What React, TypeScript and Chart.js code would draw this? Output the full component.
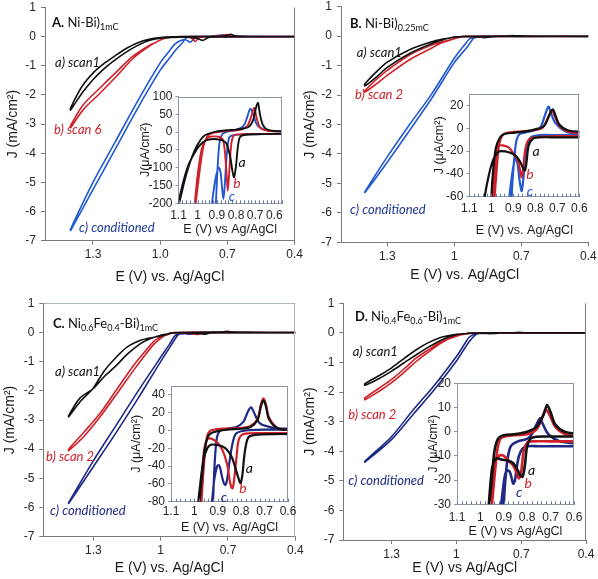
import React, { useEffect, useRef } from "react";
import { Chart, registerables } from "chart.js";

Chart.register(...registerables);

// ---------------- Tick labels ----------------
const MAIN_X_TICKS = [1.3, 1.0, 0.7, 0.4];
const MAIN_Y_TICKS = [1, 0, -1, -2, -3, -4, -5, -6, -7];
const INSET_X_TICKS = [1.1, 1.0, 0.9, 0.8, 0.7, 0.6];
const A_INSET_Y_TICKS = [100, 50, 0, -50, -100, -150, -200];
const B_INSET_Y_TICKS = [20, 0, -20, -40, -60];
const C_INSET_Y_TICKS = [40, 20, 0, -20, -40, -60, -80];
const D_INSET_Y_TICKS = [20, 10, 0, -10, -20, -30];

// ---------------- Panel A main (mA/cm2) ----------------
const A_blk_E = [0.40, 0.55, 0.64, 0.67, 0.685, 0.70, 0.72, 0.76, 0.85, 0.95, 1.00, 1.05, 1.10, 1.15, 1.20, 1.25, 1.30, 1.35, 1.40,
  1.40, 1.35, 1.30, 1.25, 1.20, 1.15, 1.10, 1.05, 1.00, 0.95, 0.90, 0.85, 0.825, 0.81, 0.795, 0.78, 0.70, 0.55, 0.40];
const A_blk_J = [0.002, 0.003, 0.008, 0.04, 0.082, 0.05, 0.02, 0.008, 0.004, -0.004, -0.03, -0.09, -0.21, -0.40, -0.65, -0.92, -1.25, -1.72, -2.45,
  -2.52, -1.95, -1.48, -1.10, -0.79, -0.52, -0.30, -0.13, -0.05, -0.024, -0.02, -0.032, -0.09, -0.127, -0.07, -0.015, -0.006, -0.005, -0.005];
const A_red_E = [0.40, 0.60, 0.67, 0.69, 0.705, 0.72, 0.75, 0.82, 0.90, 0.95, 0.98, 1.00, 1.02, 1.045, 1.12, 1.194, 1.27, 1.345, 1.40,
  1.40, 1.345, 1.27, 1.194, 1.12, 1.045, 1.00, 0.97, 0.94, 0.90, 0.87, 0.855, 0.843, 0.83, 0.815, 0.78, 0.60, 0.40];
const A_red_J = [0.002, 0.003, 0.01, 0.035, 0.068, 0.045, 0.012, 0.004, 0.001, -0.012, -0.05, -0.11, -0.2, -0.28, -0.66, -1.2, -1.77, -2.35, -3.05,
  -3.12, -2.52, -1.95, -1.35, -0.74, -0.31, -0.12, -0.04, -0.014, -0.013, -0.02, -0.08, -0.165, -0.06, -0.012, -0.006, -0.005, -0.005];
const A_blu_E = [0.40, 0.65, 0.70, 0.725, 0.745, 0.77, 0.82, 0.86, 0.88, 0.89, 0.90, 0.93, 0.96, 1.00, 1.10, 1.20, 1.30, 1.40,
  1.40, 1.30, 1.20, 1.10, 1.00, 0.96, 0.94, 0.925, 0.91, 0.89, 0.878, 0.866, 0.855, 0.845, 0.83, 0.80, 0.60, 0.40];
const A_blu_J = [0.002, 0.008, 0.03, 0.066, 0.04, 0.015, 0.005, 0, -0.025, -0.09, -0.2, -0.45, -0.75, -1.15, -2.45, -3.85, -5.25, -6.65,
  -6.6, -5.0, -3.6, -2.2, -0.9, -0.5, -0.3, -0.2, -0.14, -0.1, -0.14, -0.19, -0.12, -0.045, -0.012, -0.008, -0.006, -0.005];

// ---------------- Panel A inset (uA/cm2) ----------------
const Ai_blk_E = [0.54, 0.60, 0.64, 0.66, 0.675, 0.685, 0.695, 0.71, 0.73, 0.76, 0.80, 0.85, 0.90, 0.94, 0.97, 1.00, 1.03, 1.06, 1.09, 1.12,
  1.12, 1.10, 1.08, 1.05, 1.02, 0.99, 0.96, 0.93, 0.90, 0.87, 0.85, 0.83, 0.82, 0.81, 0.80, 0.79, 0.78, 0.76, 0.70, 0.60, 0.54];
const Ai_blk_J = [2, 3, 8, 20, 50, 82, 70, 35, 16, 10, 7, 5, 2, -4, -12, -35, -70, -120, -185, -250,
  -260, -200, -150, -95, -62, -38, -24, -20, -20, -23, -32, -70, -105, -127, -95, -40, -15, -8, -6, -5, -5];
const Ai_red_E = [0.54, 0.62, 0.67, 0.69, 0.705, 0.72, 0.74, 0.77, 0.82, 0.88, 0.93, 0.95, 0.97, 0.99, 1.01, 1.03,
  1.03, 1.015, 1.00, 0.98, 0.96, 0.94, 0.92, 0.89, 0.87, 0.86, 0.85, 0.843, 0.835, 0.825, 0.815, 0.80, 0.75, 0.65, 0.54];
const Ai_red_J = [2, 3, 10, 35, 68, 45, 18, 8, 4, 1, -4, -12, -40, -110, -200, -290,
  -300, -200, -120, -50, -22, -14, -12, -13, -20, -45, -110, -165, -110, -35, -12, -7, -6, -5, -5];
const Ai_blu_E = [0.54, 0.64, 0.69, 0.71, 0.725, 0.74, 0.76, 0.80, 0.84, 0.87, 0.885, 0.895, 0.905, 0.915,
  0.94, 0.925, 0.91, 0.897, 0.889, 0.88, 0.872, 0.866, 0.86, 0.853, 0.845, 0.835, 0.82, 0.78, 0.70, 0.60, 0.54];
const Ai_blu_J = [2, 5, 20, 50, 66, 45, 18, 6, 2, -5, -25, -90, -200, -300,
  -300, -200, -140, -108, -100, -115, -160, -188, -160, -100, -45, -15, -9, -7, -6, -5, -5];

// ---------------- Panel B main ----------------
const B_blk_E = [0.40, 0.60, 0.69, 0.72, 0.75, 0.85, 0.94, 0.97, 0.99, 1.01, 1.05, 1.10, 1.20, 1.30, 1.35, 1.40,
  1.40, 1.35, 1.30, 1.20, 1.10, 1.05, 1.02, 0.99, 0.96, 0.92, 0.88, 0.855, 0.847, 0.835, 0.81, 0.70, 0.40];
const B_blk_J = [-0.003, -0.003, 0.003, 0.016, 0.002, -0.003, -0.005, -0.01, -0.025, -0.045, -0.1, -0.19, -0.46, -0.88, -1.22, -1.62,
  -1.69, -1.40, -1.06, -0.59, -0.25, -0.12, -0.065, -0.03, -0.021, -0.021, -0.026, -0.035, -0.037, -0.022, -0.009, -0.008, -0.008];
const B_red_E = [0.40, 0.65, 0.69, 0.725, 0.76, 0.88, 0.95, 0.975, 1.00, 1.05, 1.10, 1.20, 1.30, 1.35, 1.40,
  1.40, 1.35, 1.30, 1.20, 1.10, 1.05, 1.00, 0.98, 0.96, 0.92, 0.89, 0.862, 0.845, 0.83, 0.80, 0.40];
const B_red_J = [-0.004, -0.003, 0.002, 0.016, 0.001, -0.003, -0.006, -0.035, -0.09, -0.18, -0.3, -0.64, -1.16, -1.48, -1.85,
  -1.9, -1.63, -1.33, -0.8, -0.4, -0.21, -0.09, -0.03, -0.015, -0.017, -0.025, -0.043, -0.018, -0.01, -0.008, -0.007];
const B_blu_E = [0.40, 0.66, 0.71, 0.74, 0.78, 0.87, 0.89, 0.905, 0.915, 0.94, 1.00, 1.10, 1.20, 1.30, 1.40,
  1.40, 1.30, 1.20, 1.10, 1.00, 0.96, 0.93, 0.918, 0.905, 0.895, 0.888, 0.88, 0.872, 0.862, 0.852, 0.84, 0.82, 0.70, 0.40];
const B_blu_J = [-0.005, -0.003, 0.005, 0.019, 0.0, -0.005, -0.018, -0.05, -0.08, -0.35, -0.9, -2.1, -3.2, -4.28, -5.31,
  -5.28, -4.1, -3.0, -1.95, -0.75, -0.35, -0.08, -0.06, -0.04, -0.029, -0.027, -0.032, -0.045, -0.055, -0.04, -0.018, -0.008, -0.006, -0.006];

// ---------------- Panel B inset ----------------
const Bi_blk_E = [0.58, 0.65, 0.69, 0.71, 0.72, 0.735, 0.76, 0.80, 0.85, 0.90, 0.94, 0.96, 0.98, 0.995, 1.01,
  1.05, 1.03, 1.01, 0.99, 0.97, 0.955, 0.92, 0.89, 0.87, 0.855, 0.847, 0.84, 0.83, 0.81, 0.78, 0.70, 0.58];
const Bi_blk_J = [-3, -2, 3, 12, 16.5, 12, 2, -1, -3, -4, -5, -8, -18, -45, -80,
  -90, -60, -40, -27, -21, -20, -21, -24, -29, -35, -37, -30, -15, -9, -8, -8, -8];
const Bi_red_E = [0.58, 0.65, 0.69, 0.71, 0.725, 0.74, 0.77, 0.82, 0.88, 0.93, 0.95, 0.965, 0.975, 0.985, 1.00,
  1.00, 0.99, 0.98, 0.97, 0.95, 0.92, 0.90, 0.88, 0.87, 0.862, 0.855, 0.845, 0.83, 0.80, 0.70, 0.58];
const Bi_red_J = [-4, -3, 2, 10, 16, 10, 0, -2, -3, -4, -6, -15, -35, -60, -90,
  -90, -50, -25, -16, -15, -17, -22, -28, -36, -43, -35, -18, -10, -8, -7, -7];
const Bi_blu_E = [0.58, 0.66, 0.71, 0.73, 0.74, 0.755, 0.78, 0.83, 0.87, 0.885, 0.895, 0.905, 0.915,
  0.93, 0.918, 0.905, 0.895, 0.888, 0.88, 0.872, 0.862, 0.852, 0.84, 0.82, 0.78, 0.70, 0.58];
const Bi_blu_J = [-5, -3, 5, 14, 19, 12, 0, -3, -5, -10, -25, -50, -80,
  -80, -60, -40, -29, -26.5, -32, -45, -55, -40, -18, -8, -6, -6, -6];

// ---------------- Panel C main ----------------
const C_blk_E = [0.40, 0.64, 0.68, 0.705, 0.73, 0.80, 0.92, 0.955, 0.975, 1.00, 1.05, 1.09, 1.15, 1.196, 1.25, 1.30, 1.36, 1.41,
  1.41, 1.36, 1.30, 1.25, 1.196, 1.15, 1.09, 1.05, 1.00, 0.975, 0.945, 0.91, 0.88, 0.84, 0.81, 0.803, 0.795, 0.78, 0.74, 0.40];
const C_blk_J = [0.001, 0.002, 0.012, 0.034, 0.012, 0.002, -0.002, -0.02, -0.07, -0.12, -0.19, -0.27, -0.5, -0.83, -1.3, -1.9, -2.38, -2.89,
  -2.85, -2.25, -1.92, -1.5, -1.12, -0.75, -0.38, -0.22, -0.1, -0.06, -0.02, -0.016, -0.018, -0.03, -0.055, -0.059, -0.05, -0.015, -0.005, -0.004];
const C_red_E = [0.40, 0.64, 0.68, 0.705, 0.73, 0.80, 0.93, 0.95, 0.97, 1.00, 1.03, 1.07, 1.12, 1.20, 1.27, 1.34, 1.41,
  1.41, 1.34, 1.27, 1.20, 1.12, 1.07, 1.03, 1.00, 0.975, 0.95, 0.92, 0.88, 0.85, 0.837, 0.82, 0.80, 0.40];
const C_red_J = [0.001, 0.002, 0.014, 0.036, 0.013, 0.003, 0, -0.015, -0.08, -0.15, -0.3, -0.65, -1.12, -2.0, -2.77, -3.4, -4.0,
  -4.05, -3.55, -2.89, -2.15, -1.29, -0.78, -0.4, -0.2, -0.08, -0.012, -0.01, -0.022, -0.055, -0.065, -0.03, -0.004, -0.003];
const C_blu_E = [0.40, 0.66, 0.72, 0.757, 0.79, 0.86, 0.89, 0.905, 0.915, 0.925, 0.95, 1.00, 1.10, 1.20, 1.30, 1.41,
  1.41, 1.30, 1.20, 1.10, 1.00, 0.96, 0.935, 0.915, 0.897, 0.882, 0.867, 0.85, 0.835, 0.82, 0.40];
const C_blu_J = [0.001, 0.003, 0.008, 0.026, 0.01, 0.002, 0, -0.01, -0.045, -0.1, -0.4, -1.0, -2.25, -3.45, -4.6, -5.86,
  -5.83, -4.4, -3.2, -2.0, -0.85, -0.4, -0.1, -0.055, -0.039, -0.052, -0.061, -0.035, -0.012, -0.003, 0.001];

// ---------------- Panel C inset ----------------
const Ci_blk_E = [0.58, 0.64, 0.68, 0.695, 0.705, 0.715, 0.73, 0.76, 0.80, 0.86, 0.92, 0.94, 0.955, 0.965, 0.975, 0.985,
  0.99, 0.975, 0.96, 0.945, 0.93, 0.91, 0.88, 0.86, 0.84, 0.825, 0.81, 0.803, 0.795, 0.785, 0.77, 0.74, 0.65, 0.58];
const Ci_blk_J = [1, 2, 12, 28, 34, 28, 12, 4, 2, 1, -2, -6, -20, -45, -70, -100,
  -100, -60, -32, -20, -16, -16, -18, -22, -30, -42, -55, -59, -50, -25, -8, -5, -4, -4];
const Ci_red_E = [0.58, 0.64, 0.68, 0.695, 0.705, 0.715, 0.73, 0.76, 0.80, 0.88, 0.93, 0.945, 0.955, 0.965, 0.975,
  0.98, 0.97, 0.96, 0.95, 0.94, 0.92, 0.90, 0.88, 0.86, 0.85, 0.843, 0.837, 0.83, 0.82, 0.81, 0.79, 0.70, 0.58];
const Ci_red_J = [1, 2, 14, 30, 36, 30, 13, 5, 3, 2, 0, -6, -25, -60, -100,
  -100, -55, -25, -12, -9, -10, -14, -22, -38, -55, -63, -65, -55, -30, -10, -4, -3, -3];
const Ci_blu_E = [0.58, 0.66, 0.72, 0.745, 0.757, 0.77, 0.79, 0.82, 0.86, 0.89, 0.905, 0.915, 0.925,
  0.935, 0.925, 0.915, 0.905, 0.897, 0.89, 0.882, 0.873, 0.867, 0.86, 0.85, 0.835, 0.82, 0.78, 0.70, 0.58];
const Ci_blu_J = [2, 3, 8, 20, 26, 22, 10, 4, 2, 0, -10, -45, -100,
  -100, -80, -55, -42, -39, -42, -52, -60, -61, -55, -35, -12, -3, 0, 1, 1];

// ---------------- Panel D main ----------------
const D_blk_E = [0.40, 0.64, 0.70, 0.715, 0.74, 0.80, 0.90, 0.94, 0.96, 0.98, 1.00, 1.04, 1.08, 1.13, 1.184, 1.24, 1.30, 1.36, 1.424,
  1.424, 1.36, 1.30, 1.24, 1.184, 1.13, 1.08, 1.04, 1.00, 0.97, 0.93, 0.88, 0.84, 0.82, 0.80, 0.78, 0.40];
const D_blk_J = [-0.001, 0, 0.008, 0.011, 0.003, 0, -0.0015, -0.008, -0.028, -0.04, -0.05, -0.1, -0.17, -0.33, -0.56, -0.85, -1.18, -1.45, -1.72,
  -1.77, -1.55, -1.29, -1.0, -0.73, -0.48, -0.28, -0.15, -0.06, -0.03, -0.011, -0.012, -0.016, -0.0186, -0.006, -0.0025, -0.002];
const D_red_E = [0.40, 0.64, 0.70, 0.72, 0.735, 0.80, 0.91, 0.935, 0.955, 0.97, 1.00, 1.04, 1.08, 1.13, 1.184, 1.24, 1.30, 1.36, 1.424,
  1.424, 1.36, 1.30, 1.24, 1.184, 1.13, 1.08, 1.04, 1.00, 0.96, 0.935, 0.915, 0.88, 0.845, 0.835, 0.815, 0.80, 0.40];
const D_red_J = [-0.002, -0.001, 0.006, 0.0092, 0.006, -0.001, -0.0025, -0.014, -0.035, -0.05, -0.1, -0.2, -0.34, -0.57, -0.84, -1.2, -1.57, -1.88, -2.2,
  -2.26, -1.98, -1.68, -1.32, -0.95, -0.65, -0.39, -0.22, -0.11, -0.03, -0.012, -0.0096, -0.012, -0.017, -0.0193, -0.008, -0.0045, -0.004];
const D_blu_E = [0.40, 0.66, 0.71, 0.745, 0.78, 0.84, 0.87, 0.885, 0.895, 0.905, 0.93, 0.96, 1.00, 1.10, 1.20, 1.30, 1.424,
  1.424, 1.30, 1.20, 1.10, 1.00, 0.96, 0.94, 0.915, 0.895, 0.885, 0.86, 0.845, 0.82, 0.80, 0.40];
const D_blu_J = [-0.006, -0.004, -0.001, 0.0055, -0.001, -0.004, -0.006, -0.012, -0.022, -0.035, -0.2, -0.5, -0.95, -1.9, -2.75, -3.6, -4.37,
  -4.34, -3.5, -2.6, -1.75, -0.8, -0.35, -0.14, -0.035, -0.018, -0.016, -0.0215, -0.015, -0.007, -0.006, -0.006];

// ---------------- Panel D inset ----------------
const Di_blk_E = [0.58, 0.64, 0.68, 0.70, 0.715, 0.73, 0.76, 0.80, 0.85, 0.90, 0.925, 0.94, 0.95, 0.96, 0.97,
  0.97, 0.96, 0.95, 0.94, 0.93, 0.91, 0.88, 0.86, 0.84, 0.83, 0.82, 0.81, 0.80, 0.78, 0.70, 0.58];
const Di_blk_J = [-1, 0, 3, 8, 11, 7, 2, 0, -1, -1.5, -3, -8, -18, -28, -38,
  -38, -25, -15, -12, -11, -11.5, -12, -13, -16, -18, -18.6, -14, -6, -2.5, -2, -2];
const Di_red_E = [0.58, 0.64, 0.68, 0.70, 0.72, 0.735, 0.76, 0.80, 0.86, 0.91, 0.925, 0.935, 0.945, 0.955,
  0.955, 0.945, 0.935, 0.92, 0.915, 0.90, 0.88, 0.86, 0.845, 0.835, 0.825, 0.815, 0.80, 0.78, 0.70, 0.58];
const Di_red_J = [-2, -1, 2, 6, 9.2, 6, 1, -1, -1.5, -2.5, -6, -14, -24, -35,
  -35, -20, -12, -10, -9.6, -10, -12, -14, -17, -19.3, -16, -8, -4.5, -4, -4, -4];
const Di_blu_E = [0.58, 0.66, 0.71, 0.735, 0.745, 0.76, 0.78, 0.80, 0.84, 0.87, 0.885, 0.895, 0.905,
  0.915, 0.905, 0.895, 0.885, 0.875, 0.867, 0.86, 0.852, 0.845, 0.835, 0.82, 0.80, 0.75, 0.65, 0.58];
const Di_blu_J = [-5, -4, -1, 3.5, 5.5, 3, -1, -3, -4, -6, -12, -22, -35,
  -35, -25, -18, -16, -16.5, -19, -21.5, -20, -15, -10, -7, -6, -6, -6, -6];

// ---------------- Styles ----------------
const AXIS_FONT = '"Liberation Sans", Arial, sans-serif';
const NOTE_FONT = 'Lato, "Open Sans", sans-serif';
const BLACK = "#111111";
const RED = "#d0202a";
const BLUE = "#2258d2";
const NAVY = "#1f2a85";
const AXIS = "#7a7a7a";
const FRAME = "#8d97a6";
const TICK_COLOR = "#262626";
const PAD = 24;

type Ser = { E: number[]; J: number[]; color: string; width: number };
type Spec = {
  L: number; T: number; R: number; B: number;
  wy: number; hx: number;
  xMin: number; xMax: number; xTicks: number[]; xFmt: (v: number) => string;
  yMin: number; yMax: number; yTicks: number[];
  series: Ser[];
  xTitle: string; yTitle: string;
  titleSize: number; tickSize: number;
  xTickLen: number; yTickLen: number; xTickPad: number; yTickPad: number;
  axisColor: string;
  frameTop?: boolean; frameRight?: boolean; frameColor?: string;
  minorStep?: number;
  tension: number;
};

const fmtOne = (v: number) => (Math.abs(v - 1) < 1e-9 ? "1" : v.toFixed(1));
const fmtFixed = (v: number) => v.toFixed(1);

function PlotCanvas({ spec }: { spec: Spec }) {
  const ref = useRef<HTMLCanvasElement | null>(null);
  const left = Math.round(spec.L - spec.wy - PAD);
  const top = Math.round(spec.T - PAD);
  const width = Math.round(spec.R + PAD - left);
  const height = Math.round(spec.B + spec.hx + PAD - top);
  const padL = spec.L - spec.wy - left;
  const padT = spec.T - top;
  const padR = width - (spec.R - left);
  const padB = height - (spec.B - top) - spec.hx;

  useEffect(() => {
    if (!ref.current) return;
    const framePlugin = {
      id: "frameLines",
      afterDraw(chart: any) {
        const a = chart.chartArea;
        const ctx = chart.ctx;
        ctx.save();
        if (spec.frameTop || spec.frameRight) {
          ctx.strokeStyle = spec.frameColor || AXIS;
          ctx.lineWidth = 1;
          ctx.beginPath();
          if (spec.frameTop) {
            const y = Math.round(a.top) + 0.5;
            ctx.moveTo(a.left, y);
            ctx.lineTo(a.right, y);
          }
          if (spec.frameRight) {
            const x = Math.round(a.right) - 0.5;
            ctx.moveTo(x, a.top);
            ctx.lineTo(x, a.bottom);
          }
          ctx.stroke();
        }
        if (spec.minorStep) {
          const xs = chart.scales.x;
          const step = spec.minorStep;
          const start = Math.ceil(spec.xMin / step - 1e-6);
          const end = Math.floor(spec.xMax / step + 1e-6);
          ctx.strokeStyle = "#5f7aa8";
          ctx.lineWidth = 1;
          ctx.beginPath();
          for (let k = start; k <= end; k++) {
            const px = Math.round(xs.getPixelForValue(k * step)) + 0.5;
            ctx.moveTo(px, a.bottom);
            ctx.lineTo(px, a.bottom - 3);
          }
          ctx.stroke();
        }
        ctx.restore();
      },
    };
    const chart = new Chart(ref.current, {
      type: "scatter",
      data: {
        datasets: spec.series.map((s) => ({
          data: s.E.map((e, i) => ({ x: e, y: s.J[i] })),
          showLine: true,
          borderColor: s.color,
          backgroundColor: s.color,
          borderWidth: s.width,
          pointRadius: 0,
          pointHoverRadius: 0,
          tension: spec.tension,
          fill: false,
          borderJoinStyle: "round",
          borderCapStyle: "round",
        })),
      },
      options: {
        animation: false,
        responsive: false,
        maintainAspectRatio: false,
        events: [],
        layout: { padding: { left: padL, right: padR, top: padT, bottom: padB } },
        plugins: { legend: { display: false }, tooltip: { enabled: false } },
        scales: {
          x: {
            type: "linear",
            position: "bottom",
            reverse: true,
            min: spec.xMin,
            max: spec.xMax,
            afterBuildTicks: (s: any) => {
              s.ticks = spec.xTicks.map((v) => ({ value: v }));
            },
            afterFit: (s: any) => {
              s.height = spec.hx;
            },
            ticks: {
              autoSkip: false,
              maxRotation: 0,
              minRotation: 0,
              padding: spec.xTickPad,
              color: TICK_COLOR,
              font: { family: AXIS_FONT, size: spec.tickSize },
              callback: (v: any) => spec.xFmt(Number(v)),
            },
            grid: {
              drawOnChartArea: false,
              drawTicks: spec.xTickLen > 0,
              tickLength: spec.xTickLen,
              color: spec.axisColor,
            },
            border: { display: true, color: spec.axisColor, width: 1 },
            title: {
              display: true,
              text: spec.xTitle,
              color: "#1a1a1a",
              font: { family: AXIS_FONT, size: spec.titleSize },
              padding: { top: 0, bottom: 4 },
            },
          },
          y: {
            type: "linear",
            position: "left",
            min: spec.yMin,
            max: spec.yMax,
            afterBuildTicks: (s: any) => {
              s.ticks = spec.yTicks.map((v) => ({ value: v }));
            },
            afterFit: (s: any) => {
              s.width = spec.wy;
            },
            ticks: {
              autoSkip: false,
              padding: spec.yTickPad,
              color: TICK_COLOR,
              font: { family: AXIS_FONT, size: spec.tickSize },
              callback: (v: any) => String(Number(v)),
            },
            grid: {
              drawOnChartArea: false,
              drawTicks: spec.yTickLen > 0,
              tickLength: spec.yTickLen,
              color: spec.axisColor,
            },
            border: { display: true, color: spec.axisColor, width: 1 },
            title: {
              display: true,
              text: spec.yTitle,
              color: "#1a1a1a",
              font: { family: AXIS_FONT, size: spec.titleSize },
              padding: { top: 4, bottom: 0 },
            },
          },
        },
      } as any,
      plugins: [framePlugin],
    });
    return () => chart.destroy();
  }, [spec]);

  return (
    <canvas
      ref={ref}
      width={width}
      height={height}
      style={{ position: "absolute", left, top, width, height }}
    />
  );
}

function Note({ x, y, text, color, size = 13, center = false }: { x: number; y: number; text: string; color: string; size?: number; center?: boolean }) {
  return (
    <div
      style={{
        position: "absolute",
        left: x,
        top: y,
        transform: center ? "translate(-50%, -50%)" : "translateY(-50%)",
        fontFamily: NOTE_FONT,
        fontStyle: "italic",
        fontSize: size,
        lineHeight: `${size + 2}px`,
        color,
        whiteSpace: "nowrap",
      }}
    >
      {text}
    </div>
  );
}

const subStyle: React.CSSProperties = { fontSize: 9, verticalAlign: "-3px", lineHeight: 0 };

function Title({ x, y, children }: { x: number; y: number; children: React.ReactNode }) {
  return (
    <div
      style={{
        position: "absolute",
        left: x,
        top: y,
        transform: "translateY(-50%)",
        fontFamily: NOTE_FONT,
        fontSize: 13,
        lineHeight: "16px",
        color: "#111",
        whiteSpace: "nowrap",
      }}
    >
      {children}
    </div>
  );
}

const mainBase = {
  xMin: 0.4,
  xTicks: MAIN_X_TICKS,
  yMin: -7,
  yMax: 1,
  yTicks: MAIN_Y_TICKS,
  yTitle: "J (mA/cm²)",
  titleSize: 14,
  tickSize: 12,
  xTickLen: 4,
  yTickLen: 4,
  xTickPad: 3,
  yTickPad: 5,
  axisColor: AXIS,
  tension: 0.3,
};

const insetBase = {
  xTicks: INSET_X_TICKS,
  xFmt: fmtOne,
  titleSize: 12.5,
  tickSize: 12,
  xTickLen: 0,
  yTickLen: 3,
  yTickPad: 3,
  axisColor: FRAME,
  frameTop: true,
  frameRight: true,
  frameColor: FRAME,
  minorStep: 0.02,
  tension: 0.3,
};

const SPEC_A: Spec = {
  ...mainBase,
  L: 45, T: 7.5, R: 294.7, B: 240.7, wy: 44.4, hx: 48.7,
  xMax: 1.514, xFmt: fmtFixed,
  xTitle: "E (V) vs. Ag/AgCl",
  frameRight: true, frameColor: AXIS,
  series: [
    { E: A_blk_E, J: A_blk_J, color: BLACK, width: 1.6 },
    { E: A_red_E, J: A_red_J, color: RED, width: 1.6 },
    { E: A_blu_E, J: A_blu_J, color: BLUE, width: 1.6 },
  ],
};
const SPEC_AI: Spec = {
  ...insetBase,
  L: 178.5, T: 96.5, R: 282, B: 203.3, wy: 44, hx: 38.2,
  xMin: 0.56, xMax: 1.1, xTickPad: 5.5,
  yMin: -200, yMax: 100, yTicks: A_INSET_Y_TICKS,
  xTitle: "E (V) vs Ag/AgCl", yTitle: "J(μA/cm²)",
  series: [
    { E: Ai_blk_E, J: Ai_blk_J, color: BLACK, width: 1.9 },
    { E: Ai_red_E, J: Ai_red_J, color: RED, width: 1.9 },
    { E: Ai_blu_E, J: Ai_blu_J, color: BLUE, width: 1.9 },
  ],
};
const SPEC_B: Spec = {
  ...mainBase,
  L: 341, T: 6.7, R: 588.3, B: 242.3, wy: 43.4, hx: 45.1,
  xMax: 1.507, xFmt: fmtOne,
  xTitle: "E (V) vs. Ag/AgCl",
  series: [
    { E: B_blk_E, J: B_blk_J, color: BLACK, width: 1.6 },
    { E: B_red_E, J: B_red_J, color: RED, width: 1.6 },
    { E: B_blu_E, J: B_blu_J, color: BLUE, width: 1.6 },
  ],
};
const SPEC_BI: Spec = {
  ...insetBase,
  L: 469.3, T: 94, R: 579.3, B: 196.7, wy: 41, hx: 45.3,
  xMin: 0.6, xMax: 1.1, xTickPad: 5,
  yMin: -60, yMax: 30, yTicks: B_INSET_Y_TICKS,
  xTitle: "E (V) vs. Ag/AgCl", yTitle: "J (μA/cm²)",
  series: [
    { E: Bi_blk_E, J: Bi_blk_J, color: BLACK, width: 2.2 },
    { E: Bi_red_E, J: Bi_red_J, color: RED, width: 2.2 },
    { E: Bi_blu_E, J: Bi_blu_J, color: BLUE, width: 2.2 },
  ],
};
const SPEC_C: Spec = {
  ...mainBase,
  L: 43.3, T: 303.3, R: 295.3, B: 536.7, wy: 45.7, hx: 44,
  xMax: 1.523, xFmt: fmtOne,
  xTitle: "E (V) vs. Ag/AgCl",
  frameTop: true, frameRight: true, frameColor: "#a9b6c4",
  series: [
    { E: C_blk_E, J: C_blk_J, color: BLACK, width: 1.6 },
    { E: C_red_E, J: C_red_J, color: RED, width: 1.6 },
    { E: C_blu_E, J: C_blu_J, color: NAVY, width: 1.6 },
  ],
};
const SPEC_CI: Spec = {
  ...insetBase,
  L: 171, T: 386, R: 288, B: 501.7, wy: 45.5, hx: 37.1,
  xMin: 0.6, xMax: 1.1, xTickPad: 3,
  yMin: -80, yMax: 50, yTicks: C_INSET_Y_TICKS,
  xTitle: "E (V) vs. Ag/AgCl", yTitle: "J (μA/cm²)",
  series: [
    { E: Ci_blk_E, J: Ci_blk_J, color: BLACK, width: 2.2 },
    { E: Ci_red_E, J: Ci_red_J, color: RED, width: 2.2 },
    { E: Ci_blu_E, J: Ci_blu_J, color: NAVY, width: 2.2 },
  ],
};
const SPEC_D: Spec = {
  ...mainBase,
  L: 343.3, T: 303.3, R: 586, B: 540, wy: 45.7, hx: 40.1,
  xMax: 1.524, xFmt: fmtOne,
  xTitle: "E (V) vs Ag/AgCl",
  frameRight: true, frameColor: AXIS,
  series: [
    { E: D_blk_E, J: D_blk_J, color: BLACK, width: 1.6 },
    { E: D_red_E, J: D_red_J, color: RED, width: 1.6 },
    { E: D_blu_E, J: D_blu_J, color: NAVY, width: 1.6 },
  ],
};
const SPEC_DI: Spec = {
  ...insetBase,
  L: 457, T: 383.3, R: 574, B: 504.3, wy: 34.5, hx: 38.9,
  xMin: 0.6, xMax: 1.1, xTickPad: 6,
  yMin: -30, yMax: 20, yTicks: D_INSET_Y_TICKS,
  xTitle: "E (V) vs Ag/AgCl", yTitle: "J (μA/cm²)",
  series: [
    { E: Di_blk_E, J: Di_blk_J, color: BLACK, width: 2.6 },
    { E: Di_red_E, J: Di_red_J, color: RED, width: 2.6 },
    { E: Di_blu_E, J: Di_blu_J, color: NAVY, width: 2.6 },
  ],
};

export default function App() {
  return (
    <div style={{ position: "absolute", left: 0, top: 0, width: 598, height: 579, background: "#fff", overflow: "hidden" }}>
      <PlotCanvas spec={SPEC_A} />
      <PlotCanvas spec={SPEC_B} />
      <PlotCanvas spec={SPEC_C} />
      <PlotCanvas spec={SPEC_D} />
      <PlotCanvas spec={SPEC_AI} />
      <PlotCanvas spec={SPEC_BI} />
      <PlotCanvas spec={SPEC_CI} />
      <PlotCanvas spec={SPEC_DI} />

      <Title x={52} y={21.7}><b>A.</b> Ni-Bi)<sub style={subStyle}>1mC</sub></Title>
      <Note x={55} y={62} text="a) scan1" color={BLACK} />
      <Note x={54} y={128.5} text="b) scan 6" color={RED} />
      <Note x={79} y={227} text="c) conditioned" color="#1f3a9a" />
      <Note x={242} y={162} text="a" color={BLACK} size={14} center />
      <Note x={237} y={183} text="b" color={RED} size={14} center />
      <Note x={232} y={196} text="c" color={BLUE} size={14} center />

      <Title x={350} y={23.3}><b>B.</b> Ni-Bi)<sub style={subStyle}>0.25mC</sub></Title>
      <Note x={356.7} y={51.7} text="a) scan1" color={BLACK} />
      <Note x={355} y={94} text="b) scan 2" color={RED} />
      <Note x={350} y={209} text="c) conditioned" color="#1f3a9a" />
      <Note x={536} y={150.5} text="a" color={BLACK} size={14} center />
      <Note x={530} y={174} text="b" color={RED} size={14} center />
      <Note x={530} y={190.5} text="c" color={BLUE} size={14} center />

      <Title x={53} y={323.3}><b>C.</b> Ni<sub style={subStyle}>0.6</sub>Fe<sub style={subStyle}>0.4</sub>-Bi)<sub style={subStyle}>1mC</sub></Title>
      <Note x={55} y={370.7} text="a) scan1" color={BLACK} />
      <Note x={46} y={455.7} text="b) scan 2" color={RED} />
      <Note x={50} y={510} text="c) conditioned" color={NAVY} />
      <Note x={249.3} y={467.5} text="a" color={BLACK} size={14} center />
      <Note x={243} y={487.5} text="b" color={RED} size={14} center />
      <Note x={224} y={497} text="c" color={NAVY} size={14} center />

      <Title x={355} y={316}><b>D.</b> Ni<sub style={subStyle}>0.4</sub>Fe<sub style={subStyle}>0.6</sub>-Bi)<sub style={subStyle}>1mC</sub></Title>
      <Note x={352.7} y={351} text="a) scan1" color={BLACK} />
      <Note x={348.3} y={414} text="b) scan 2" color={RED} />
      <Note x={348.3} y={480} text="c) conditioned" color={NAVY} />
      <Note x={531.7} y={469.5} text="a" color={BLACK} size={14} center />
      <Note x={528.3} y={483} text="b" color={RED} size={14} center />
      <Note x={519.3} y={491.5} text="c" color={NAVY} size={14} center />
    </div>
  );
}
